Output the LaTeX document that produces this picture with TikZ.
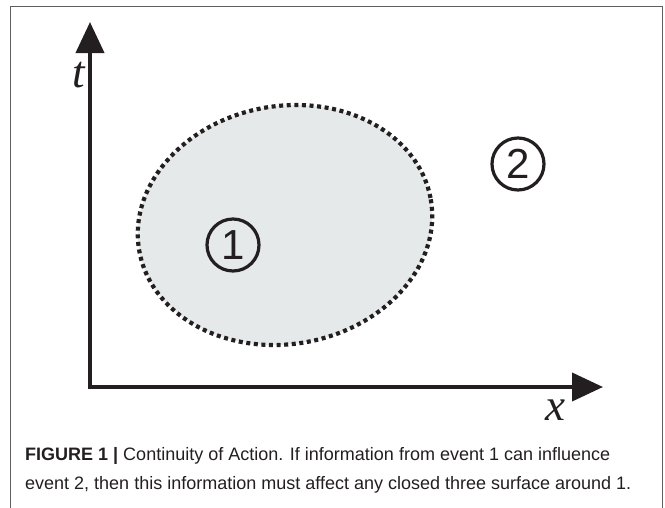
\documentclass[tikz,border=0pt]{standalone}
\usepackage{fontspec}
\setmainfont{Liberation Sans}
\newfontfamily\axisfont{Liberation Serif}
\usetikzlibrary{arrows.meta}
\definecolor{blobfill}{RGB}{230,233,234}
\definecolor{framegray}{RGB}{95,95,95}
\definecolor{inkblack}{RGB}{35,31,32}
\begin{document}
\begin{tikzpicture}[x=1pt,y=-1pt]
  \tikzstyle{axis}=[draw=inkblack, line width=4pt, {Triangle[length=31pt,width=28pt]}-{Triangle[length=31pt,width=28pt]}]
  \tikzstyle{blob}=[fill=blobfill, draw=inkblack, line width=4.2pt, dash pattern=on 4pt off 3.6pt]
  \tikzstyle{event}=[circle, draw=inkblack, line width=3.2pt, minimum size=52pt, inner sep=0pt, font=\fontsize{42}{42}\selectfont, text=inkblack]
  \tikzstyle{axislabel}=[inner sep=0pt, font=\fontsize{45}{45}\selectfont\axisfont\itshape, text=inkblack]
  \tikzstyle{caption}=[anchor=base west, inner sep=0pt, font=\fontsize{18}{22}\selectfont, text=inkblack]

  \useasboundingbox (0,0) rectangle (665,507);
  \draw[framegray, line width=1.5pt] (10.5,520) -- (10.5,6.5) -- (662.5,6.5) -- (662.5,520);

  \coordinate (ttip) at (90,22);
  \coordinate (o) at (90,387);
  \coordinate (xtip) at (603,387);
  \draw[axis] (ttip) -- (o) -- (xtip);

  \coordinate (c1) at (285,225);
  \draw[blob] (c1) ellipse [x radius=148, y radius=119, rotate=10];

  \node[event] (e1) at (233,245) {1};
  \node[event] (e2) at (518,164) {2};

  \node[axislabel] (tlabel) at (79,75) {t};
  \node[axislabel] (xlabel) at (555,410) {x};

  \node[caption] (cap1) at (25,460) {\textbf{FIGURE 1 |} Continuity of Action. If information from event 1 can influence};
  \node[caption] (cap2) at (25,489) {event 2, then this information must affect any closed three surface around 1.};
\end{tikzpicture}
\end{document}
